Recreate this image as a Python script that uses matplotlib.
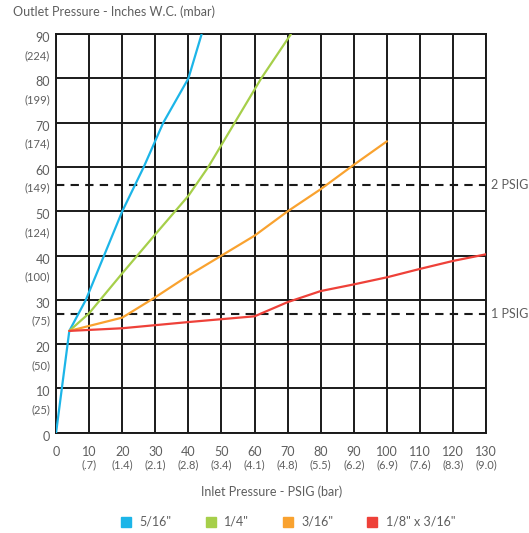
import matplotlib
matplotlib.use("Agg")
import matplotlib.pyplot as plt
from matplotlib.lines import Line2D

plt.rcParams['font.family'] = ['Lato', 'DejaVu Sans']

# --- dados ---
inlet_ticks = [0, 10, 20, 30, 40, 50, 60, 70, 80, 90, 100, 110, 120, 130]
inlet_bar = ['', '(.7)', '(1.4)', '(2.1)', '(2.8)', '(3.4)', '(4.1)', '(4.8)',
             '(5.5)', '(6.2)', '(6.9)', '(7.6)', '(8.3)', '(9.0)']
outlet_ticks = [0, 10, 20, 30, 40, 50, 60, 70, 80, 90]
outlet_mbar = ['', '(25)', '(50)', '(75)', '(100)', '(124)', '(149)', '(174)', '(199)', '(224)']

x_516 = [0, 4, 9, 14.5, 20, 26.5, 32.4, 40, 44]
y_516 = [0, 23, 30, 40, 50, 60, 70, 80, 90]

x_14 = [4, 10, 20, 30, 40, 46, 54, 62, 71]
y_14 = [23, 27, 36, 44.8, 53.5, 60, 70, 80, 90]

x_316 = [4, 20, 30, 40, 50, 60, 70, 80, 90, 100]
y_316 = [23, 26, 30.6, 35.5, 40, 44.5, 50, 55, 60.5, 65.8]

x_18 = [4, 20, 40, 60, 70, 80, 90, 100, 110, 120, 130]
y_18 = [23, 23.6, 25, 26.3, 29.5, 32, 33.5, 35.1, 37, 38.8, 40.3]

psig_lines = [26.8, 56.0]
psig_labels = ['1 PSIG', '2 PSIG']

series = [
    (x_516, y_516, '#1cb5e8', '5/16"'),
    (x_14, y_14, '#a6cf4a', '1/4"'),
    (x_316, y_316, '#f9a22f', '3/16"'),
    (x_18, y_18, '#ee4139', '1/8" x 3/16"'),
]

grey = '#5e5e5e'

fig = plt.figure(figsize=(5.29, 5.33), dpi=100)
ax = fig.add_axes([0.106, 0.188, 0.813, 0.748])
ax.set_xlim(0, 130)
ax.set_ylim(0, 90)

# grade
for xv in inlet_ticks:
    ax.axvline(xv, color='#1a1a1a', lw=1.4, zorder=1)
for yv in outlet_ticks:
    ax.axhline(yv, color='#1a1a1a', lw=1.4, zorder=1)
for s in ax.spines.values():
    s.set_color('#1a1a1a')
    s.set_linewidth(1.4)

# linhas tracejadas de PSIG
for yv, lab in zip(psig_lines, psig_labels):
    ax.plot([0, 130], [yv, yv], color='#1a1a1a', lw=1.5, ls=(0, (4, 3)), zorder=2)
    ax.text(131.5, yv, lab, color=grey, fontsize=9, va='center', ha='left', clip_on=False)

# curvas
for xs, ys, c, lab in series:
    ax.plot(xs, ys, color=c, lw=1.6, zorder=3, solid_capstyle='round')

ax.set_xticks([])
ax.set_yticks([])

# rótulos dos eixos
for xv, b in zip(inlet_ticks, inlet_bar):
    ax.text(xv, -4.4, str(xv), ha='center', va='center',
            fontsize=9, color=grey, clip_on=False)
    if b:
        ax.text(xv, -7.3, b, ha='center', va='center', fontsize=8, color=grey, clip_on=False)
for yv, m in zip(outlet_ticks, outlet_mbar):
    ax.text(-1.8, yv - 0.9, str(yv), ha='right', va='center', fontsize=9, color=grey, clip_on=False)
    if m:
        ax.text(-1.8, yv - 4.8, m, ha='right', va='center', fontsize=8, color=grey, clip_on=False)

fig.text(13 / 529, 1 - 12 / 533, 'Outlet Pressure - Inches W.C. (mbar)', fontsize=9,
         color=grey, ha='left', va='center')
fig.text(272 / 529, 1 - 492 / 533, 'Inlet Pressure - PSIG (bar)', fontsize=9,
         color=grey, ha='center', va='center')

handles = [Line2D([], [], marker='s', ls='none', color=c, markersize=7) for _, _, c, _ in series]
labels = [lab for _, _, _, lab in series]
leg = fig.legend(handles, labels, loc='center', bbox_to_anchor=(0.544, 1 - 522 / 533), ncol=4,
                 frameon=False, fontsize=9, handlelength=1.0, handletextpad=0.6,
                 columnspacing=2.6)
for t in leg.get_texts():
    t.set_color(grey)

fig.savefig('out.png', dpi=100)
